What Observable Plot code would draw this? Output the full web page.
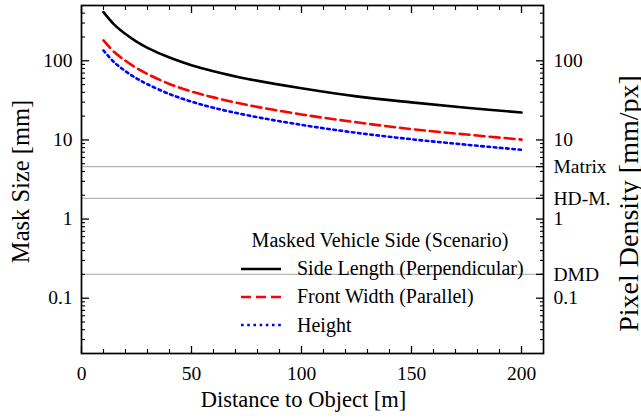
<!DOCTYPE html>
<html><head><meta charset="utf-8">
<script src="https://cdn.jsdelivr.net/npm/d3@7"></script>
<script src="https://cdn.jsdelivr.net/npm/@observablehq/plot@0.6"></script>
<style>
body{margin:0;background:#fff;}
#wrap{position:relative;width:641px;height:418px;overflow:hidden;}
.legend{position:absolute;left:235px;top:226px;width:290px;color:#000;}
.legend .title{text-align:center;height:28.4px;line-height:28.4px;white-space:nowrap;}
.legend .row{display:flex;align-items:center;height:28.4px;white-space:nowrap;}
.legend svg{margin-left:6px;margin-right:16px;flex:none;}
</style></head><body><div id="wrap"></div>
<script>
// ---- data ----
const distance   = [10, 15, 20, 25, 30, 40, 50, 60, 75, 100, 125, 150, 175, 200];
const sideLength = [413, 285, 218, 175, 146, 110, 88, 74, 59.5, 45, 35.5, 29.8, 25.5, 22.2];
const frontWidth = [181, 128, 100, 81, 68, 51, 41, 34.5, 27.8, 21, 16.7, 13.7, 11.7, 10.1];
const heightMM   = [135, 95, 74, 60, 50.5, 38, 30.5, 25.5, 20.6, 15.5, 12.3, 10.2, 8.7, 7.5];
const seriesNames = ["Side Length (Perpendicular)", "Front Width (Parallel)", "Height"];
const legendTitle = "Masked Vehicle Side (Scenario)";
const densityValues = [4.6, 1.83, 0.2];
const densityNames = ["Matrix", "HD-M.", "DMD"];
const xMajorTicks = [0, 50, 100, 150, 200];
const xMinorTicks = [10, 20, 30, 40, 60, 70, 80, 90, 110, 120, 130, 140, 160, 170, 180, 190];
const yMajorTicks = [0.1, 1, 10, 100];
const yMajorLabels = ["0.1", "1", "10", "100"];
const yMinorTicks = [0.02,0.03,0.04,0.05,0.06,0.07,0.08,0.09, 0.2,0.3,0.4,0.5,0.6,0.7,0.8,0.9,
                     2,3,4,5,6,7,8,9, 20,30,40,50,60,70,80,90, 200,300,400,500];
const xTitle = "Distance to Object [m]";
const yTitle = "Mask Size [mm]";
const y2Title = "Pixel Density [mm/px]";

// ---- styles ----
const FAMILY = '"Liberation Serif", "Times New Roman", serif';
const seriesColors = ["#000000", "#ff0000", "#0000ff"];
const seriesDash = [null, "10,5", "2.6,3.6"];
const FONT = 19.5;

const seriesValues = [sideLength, frontWidth, heightMM];
const rows = [];
seriesNames.forEach((name, s) => distance.forEach((d, i) => rows.push({distance: d, value: seriesValues[s][i], series: name})));

const rightTicks = [...yMajorTicks, ...densityValues];
const rightLabels = [...yMajorLabels, ...densityNames];

const tickOpts = {tickFormat: () => "", label: null};
const chart = Plot.plot({
  width: 641, height: 418,
  marginLeft: 81, marginRight: 98, marginTop: 5, marginBottom: 65,
  style: {fontFamily: FAMILY, color: "#000", background: "#fff"},
  x: {domain: [0, 210]},
  y: {type: "log", domain: [0.02, 500]},
  marks: [
    Plot.ruleY(densityValues, {stroke: "#b5b5b5", strokeWidth: 1.2}),
    ...seriesNames.map((name, s) => Plot.line(rows.filter(r => r.series === name), {
      x: "distance", y: "value", stroke: seriesColors[s], strokeWidth: 2.6,
      strokeDasharray: seriesDash[s], curve: "catmull-rom"
    })),
    Plot.frame({stroke: "#000", strokeWidth: 1.7}),
    // inward ticks on all four sides
    Plot.axisX(xMajorTicks, {anchor: "bottom", tickSize: -7, strokeWidth: 1.3, ...tickOpts}),
    Plot.axisX(xMinorTicks, {anchor: "bottom", tickSize: -4, strokeWidth: 1.1, ...tickOpts}),
    Plot.axisX(xMajorTicks, {anchor: "top", tickSize: -7, strokeWidth: 1.3, ...tickOpts}),
    Plot.axisX(xMinorTicks, {anchor: "top", tickSize: -4, strokeWidth: 1.1, ...tickOpts}),
    Plot.axisY(yMajorTicks, {anchor: "left", tickSize: -8, strokeWidth: 1.3, ...tickOpts}),
    Plot.axisY(yMinorTicks, {anchor: "left", tickSize: -4, strokeWidth: 1.1, ...tickOpts}),
    Plot.axisY(rightTicks, {anchor: "right", tickSize: -8, strokeWidth: 1.3, ...tickOpts}),
    Plot.axisY(yMinorTicks, {anchor: "right", tickSize: -4, strokeWidth: 1.1, ...tickOpts}),
    // tick labels
    Plot.text(xMajorTicks, {x: d => d, frameAnchor: "bottom", lineAnchor: "top", textAnchor: "middle", dy: 13, fontSize: FONT, fill: "#000", fontFamily: FAMILY}),
    Plot.text(yMajorTicks, {y: d => d, text: (d, i) => yMajorLabels[i], frameAnchor: "left", textAnchor: "end", dx: -9, fontSize: FONT, fill: "#000", fontFamily: FAMILY}),
    Plot.text(rightTicks, {y: d => d, text: (d, i) => rightLabels[i], frameAnchor: "right", textAnchor: "start", dx: 10, fontSize: FONT, fill: "#000", fontFamily: FAMILY}),
    // axis titles
    Plot.text([xTitle], {frameAnchor: "bottom", lineAnchor: "middle", textAnchor: "middle", dy: 46, dx: -9, fontSize: 22.5, fill: "#000", fontFamily: FAMILY}),
    Plot.text([yTitle], {frameAnchor: "left", textAnchor: "middle", lineAnchor: "middle", rotate: -90, dx: -60, dy: 2, fontSize: 24.5, fill: "#000", fontFamily: FAMILY}),
    Plot.text([y2Title], {frameAnchor: "right", textAnchor: "middle", lineAnchor: "middle", rotate: -90, dx: 86, dy: 24, fontSize: 28, fill: "#000", fontFamily: FAMILY})
  ]
});
const wrap = document.getElementById("wrap");
wrap.appendChild(chart);

// ---- legend (HTML overlay inside the axes) ----
const lg = document.createElement("div");
lg.className = "legend";
lg.style.fontFamily = FAMILY;
lg.style.fontSize = "20px";
const t = document.createElement("div");
t.className = "title"; t.textContent = legendTitle;
lg.appendChild(t);
seriesNames.forEach((name, s) => {
  const row = document.createElement("div"); row.className = "row";
  const sv = document.createElementNS("http://www.w3.org/2000/svg", "svg");
  sv.setAttribute("width", 40); sv.setAttribute("height", 10);
  const ln = document.createElementNS("http://www.w3.org/2000/svg", "line");
  ln.setAttribute("x1", 0); ln.setAttribute("x2", 40); ln.setAttribute("y1", 5); ln.setAttribute("y2", 5);
  ln.setAttribute("stroke", seriesColors[s]); ln.setAttribute("stroke-width", 2.6);
  if (seriesDash[s]) ln.setAttribute("stroke-dasharray", seriesDash[s]);
  sv.appendChild(ln);
  const tx = document.createElement("span"); tx.textContent = name;
  row.appendChild(sv); row.appendChild(tx);
  lg.appendChild(row);
});
wrap.appendChild(lg);
</script></body></html>
